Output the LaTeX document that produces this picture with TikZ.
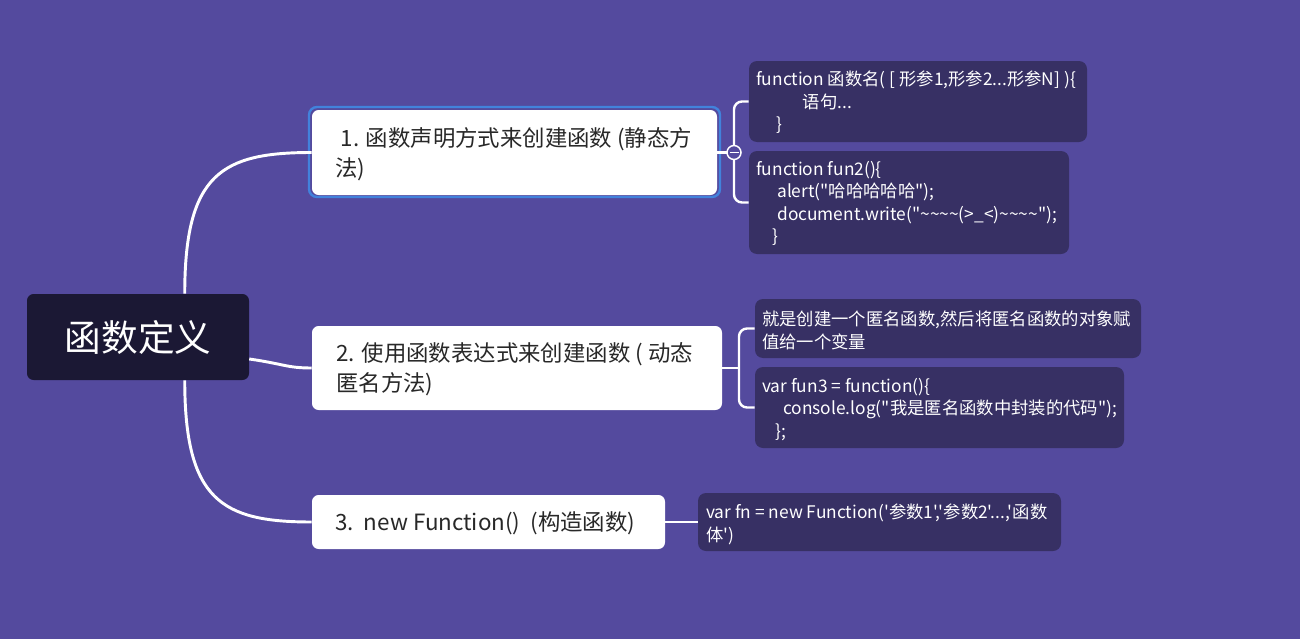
\documentclass[tikz,border=0pt]{standalone}
\usepackage{fontspec}
\newfontfamily\cjk{Noto Sans CJK SC}
\usetikzlibrary{fit,calc}
\definecolor{bg}{RGB}{84,74,158}
\definecolor{leaf}{RGB}{55,48,100}
\definecolor{rootc}{RGB}{27,24,52}
\definecolor{btext}{RGB}{40,40,40}
\definecolor{sel}{RGB}{66,130,220}
\begin{document}
\begin{tikzpicture}[x=0.75pt,y=-0.75pt,
  rootbox/.style={fill=rootc, rounded corners=5pt, inner sep=0pt},
  branchbox/.style={fill=white, rounded corners=5pt, inner sep=0pt},
  leafbox/.style={fill=leaf, rounded corners=6pt, inner sep=0pt},
  selbox/.style={draw=sel, line width=1.8pt, rounded corners=6pt, inner sep=0pt},
  btxt/.style={font=\cjk\fontsize{16.8}{22.5}\selectfont, text=btext, align=left, anchor=north west, inner sep=0pt},
  ltxt/.style={font=\cjk\fontsize{13}{16.8}\selectfont, text=white, align=left, anchor=north west, inner sep=0pt},
  conn/.style={draw=white, line width=2.2pt},
  brk/.style={draw=white, line width=1.8pt, rounded corners=6pt},
  collapse/.style={circle, draw=white, fill=bg, line width=1.1pt, minimum size=10.5pt, inner sep=0pt}
]
\fill[bg] (0,0) rectangle (1300,639);
\useasboundingbox (0,0) rectangle (1300,639);

% root
\node[rootbox, fit={(27,294)(249,380)}] (r) {};
\node[font=\cjk\fontsize{27.5}{30}\selectfont, text=white] (rt) at (r.center) {函数定义};

% branches
\node[selbox, fit={(309,107)(720,197)}] (sel) {};
\node[branchbox, fit={(312,110)(717,195)}] (b1) {};
\node[branchbox, fit={(312,326)(722,410)}] (b2) {};
\node[branchbox, fit={(312,495)(665,549)}] (b3) {};

\node[btxt] (t1) at (335,127) {\hspace*{4pt}1. 函数声明方式来创建函数 (静态方\\法)};
\node[btxt] (t2) at (336,342) {2. 使用函数表达式来创建函数 ( 动态\\匿名方法)};
\node[btxt] (t3) at (335,511) {3.\ \ new Function()\ \ (构造函数)};

% leaves
\node[leafbox, fit={(749,61)(1087,142)}] (l1a) {};
\node[leafbox, fit={(749,151)(1069,254)}] (l1b) {};
\node[leafbox, fit={(755,299)(1141,358)}] (l2a) {};
\node[leafbox, fit={(755,367)(1124,448)}] (l2b) {};
\node[leafbox, fit={(698,493)(1061,551)}] (l3) {};

\node[ltxt] (lt1a) at (756,71) {function 函数名( [ 形参1,形参2...形参N] )\{\\\hspace*{35pt}语句...\\\hspace*{15pt}\}};
\node[ltxt] (lt1b) at (756,161) {function fun2()\{\\\hspace*{15.75pt}alert("哈哈哈哈哈");\\\hspace*{15.75pt}document.write("\textasciitilde\textasciitilde\textasciitilde\textasciitilde(>\_<)\textasciitilde\textasciitilde\textasciitilde\textasciitilde");\\\hspace*{12pt}\}};
\node[ltxt] (lt2a) at (762,311) {就是创建一个匿名函数,然后将匿名函数的对象赋\\值给一个变量};
\node[ltxt] (lt2b) at (762,378) {var fun3 = function()\{\\\hspace*{15.75pt}console.log("我是匿名函数中封装的代码");\\\hspace*{10pt}\};};
\node[ltxt] (lt3) at (706,504) {var fn = new Function('参数1','参数2'...,'函数\\体')};

% root connectors
\draw[conn] ($(r.north west)+(158,0)$) .. controls +(0,-120) and +(-90,0) .. (b1.west);
\draw[conn] ($(r.south west)+(158,0)$) .. controls +(0,120) and +(-90,0) .. (b3.west);
\draw[conn] ($(r.east)+(0,22)$) .. controls +(35,5) and +(-25,0) .. (b2.west);

% branch 1 bracket
\coordinate (k1) at (734,152.5);
\draw[brk] (b1.east) -- (k1);
\draw[brk] (l1a.west) -- (l1a.west -| k1) -- (l1b.west -| k1) -- (l1b.west);
\node[collapse] (cc) at (k1) {};
\draw[white, line width=1pt] ($(cc.center)+(-4.5,0)$) -- ($(cc.center)+(4.5,0)$);

% branch 2 bracket
\coordinate (k2) at (739,368);
\draw[brk] (b2.east) -- (k2);
\draw[brk] (l2a.west) -- (l2a.west -| k2) -- (l2b.west -| k2) -- (l2b.west);

% branch 3
\draw[brk] (b3.east) -- (l3.west);
\end{tikzpicture}
\end{document}
